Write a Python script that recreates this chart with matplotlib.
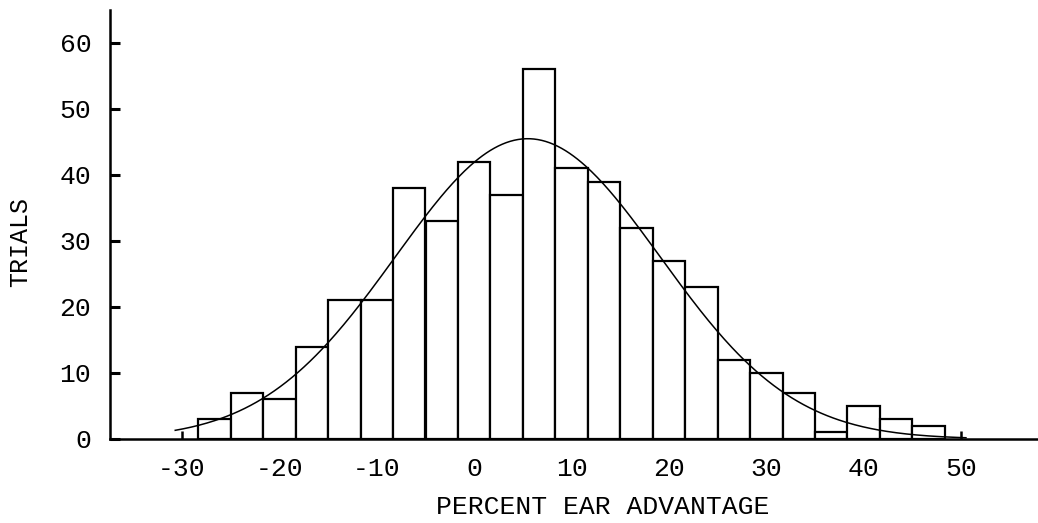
import numpy as np
import matplotlib
matplotlib.use("Agg")
import matplotlib.pyplot as plt

# Data
bin_width = 10 / 3
bin_centers = [-26.67, -23.33, -20.0, -16.67, -13.33, -10.0, -6.67, -3.33, 0.0,
               3.33, 6.67, 10.0, 13.33, 16.67, 20.0, 23.33, 26.67, 30.0, 33.33,
               36.67, 40.0, 43.33, 46.67]
trials = [3, 7, 6, 14, 21, 21, 38, 33, 42, 37, 56, 41, 39, 32, 27, 23, 12, 10, 7,
          1, 5, 3, 2]
x_ticks = [-30, -20, -10, 0, 10, 20, 30, 40, 50]
y_ticks = [0, 10, 20, 30, 40, 50, 60]

# Fitted normal curve parameters
curve_mean = 5.5
curve_sd = 13.6
curve_peak = 45.5
curve_start = -30.7
curve_end = 50.5

font = "Liberation Mono"

fig = plt.figure(figsize=(10.38, 5.23), dpi=100)
ax = fig.add_axes([110 / 1038, (523 - 439) / 523, (1038 - 110) / 1038, (439 - 10) / 523])

ax.bar(bin_centers, trials, width=bin_width, facecolor="white", edgecolor="black",
       linewidth=1.6, align="center", zorder=2)

xc = np.linspace(curve_start, curve_end, 400)
yc = curve_peak * np.exp(-0.5 * ((xc - curve_mean) / curve_sd) ** 2)
ax.plot(xc, yc, color="black", linewidth=1.1, zorder=3)

ax.set_xlim(-37.4, 57.9)
ax.set_ylim(0, 65)

for side in ["top", "right"]:
    ax.spines[side].set_visible(False)
for side in ["left", "bottom"]:
    ax.spines[side].set_linewidth(1.8)
    ax.spines[side].set_zorder(4)

ax.set_xticks(x_ticks)
ax.set_yticks(y_ticks)
ax.set_xticklabels([str(v) for v in x_ticks], fontfamily=font, fontsize=19)
ax.set_yticklabels([str(v) for v in y_ticks], fontfamily=font, fontsize=19)
ax.tick_params(axis="x", direction="in", length=6, width=1.8, pad=13)
ax.tick_params(axis="y", direction="in", length=7, width=2.2, pad=13.5)

ax.set_xlabel("PERCENT EAR ADVANTAGE", fontfamily=font, fontsize=19)
ax.xaxis.set_label_coords(0.531, -0.13)
ax.set_ylabel("TRIALS", fontfamily=font, fontsize=18)
ax.yaxis.set_label_coords(-0.084, 0.459)

fig.savefig("out.png", dpi=100)
